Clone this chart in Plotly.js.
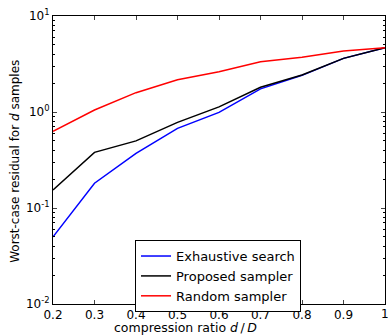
<!DOCTYPE html>
<html><head><meta charset="utf-8">
<script src="https://cdn.plot.ly/plotly-3.0.1.min.js"></script>
<style>html,body{margin:0;padding:0;background:#fff;overflow:hidden}#chart{width:388px;height:336px}</style>
</head><body><div id="chart"></div>
<script>
const ratio = [0.2,0.3,0.4,0.5,0.6,0.7,0.8,0.9,1.0];
const exhaustive = [0.050,0.181,0.37,0.676,0.99,1.74,2.41,3.62,4.68];
const proposed = [0.154,0.38,0.50,0.78,1.13,1.81,2.43,3.62,4.68];
const randomS = [0.63,1.05,1.59,2.17,2.63,3.34,3.71,4.32,4.68];
const xTickVals = [0.2,0.3,0.4,0.5,0.6,0.7,0.8,0.9,1.0];
const xTickText = ['0.2','0.3','0.4','0.5','0.6','0.7','0.8','0.9','1'];
const yTickVals = [0.01,0.1,1,10];
const yTickText = ['10<sup>-2</sup>','10<sup>-1</sup>','10<sup>0</sup>','10<sup>1</sup>'];
const xTitle = 'compression ratio <i>d</i>\u2009/\u2009<i>D</i>';
const yTitle = 'Worst-case residual for <i>d</i> samples';
const fontFam = 'DejaVu Sans, sans-serif';
const lastIdx = xTickVals.length - 1;
const axisTickText = xTickText.map(function(t,i){ return i === lastIdx ? '' : t; });
const traces = [
 {x:ratio,y:exhaustive,name:'Exhaustive search',mode:'lines',line:{color:'#0000ff',width:1.5}},
 {x:ratio,y:proposed,name:'Proposed sampler',mode:'lines',line:{color:'#000000',width:1.5}},
 {x:ratio,y:randomS,name:'Random sampler',mode:'lines',line:{color:'#ff0000',width:1.5}}
];
const layout = {
 width:388,height:336,
 margin:{l:53,r:3,t:16,b:32},
 paper_bgcolor:'#fff',plot_bgcolor:'#fff',
 font:{family:fontFam,size:12,color:'#000'},
 showlegend:true,
 legend:{x:0.247,y:0.222,xanchor:'left',yanchor:'top',bordercolor:'#000',borderwidth:1,bgcolor:'#fff',
   font:{family:fontFam,size:13},tracegroupgap:0,itemwidth:30},
 xaxis:{range:[0.2,1.0],tickvals:xTickVals,ticktext:axisTickText,ticks:'inside',ticklen:4,
   showline:true,linecolor:'#000',linewidth:1,mirror:'ticks',showgrid:false,zeroline:false,
   tickfont:{size:12},ticklabeloverflow:'allow',automargin:false},
 yaxis:{type:'log',range:[-2,1],tickvals:yTickVals,ticktext:yTickText,ticks:'inside',ticklen:4,
   showline:true,linecolor:'#000',linewidth:1,mirror:'ticks',showgrid:false,zeroline:false,
   tickfont:{size:12},automargin:false,
   minor:{ticks:'inside',dtick:'D1',ticklen:2,tickwidth:1,tickcolor:'#000',showgrid:false}},
 annotations:[
  {text:xTickText[lastIdx],xref:'x',yref:'paper',x:xTickVals[lastIdx],y:-0.035,xanchor:'center',yanchor:'middle',showarrow:false,font:{size:12}},
  {text:xTitle,xref:'paper',yref:'paper',x:0.3976,y:-0.08,xanchor:'center',yanchor:'middle',showarrow:false,font:{size:12.5}},
  {text:yTitle,xref:'paper',yref:'paper',x:-0.1145,y:0.497,xanchor:'center',yanchor:'middle',textangle:-90,showarrow:false,font:{size:12}}
 ]
};
Plotly.newPlot('chart',traces,layout,{displayModeBar:false,staticPlot:true});
</script></body></html>
